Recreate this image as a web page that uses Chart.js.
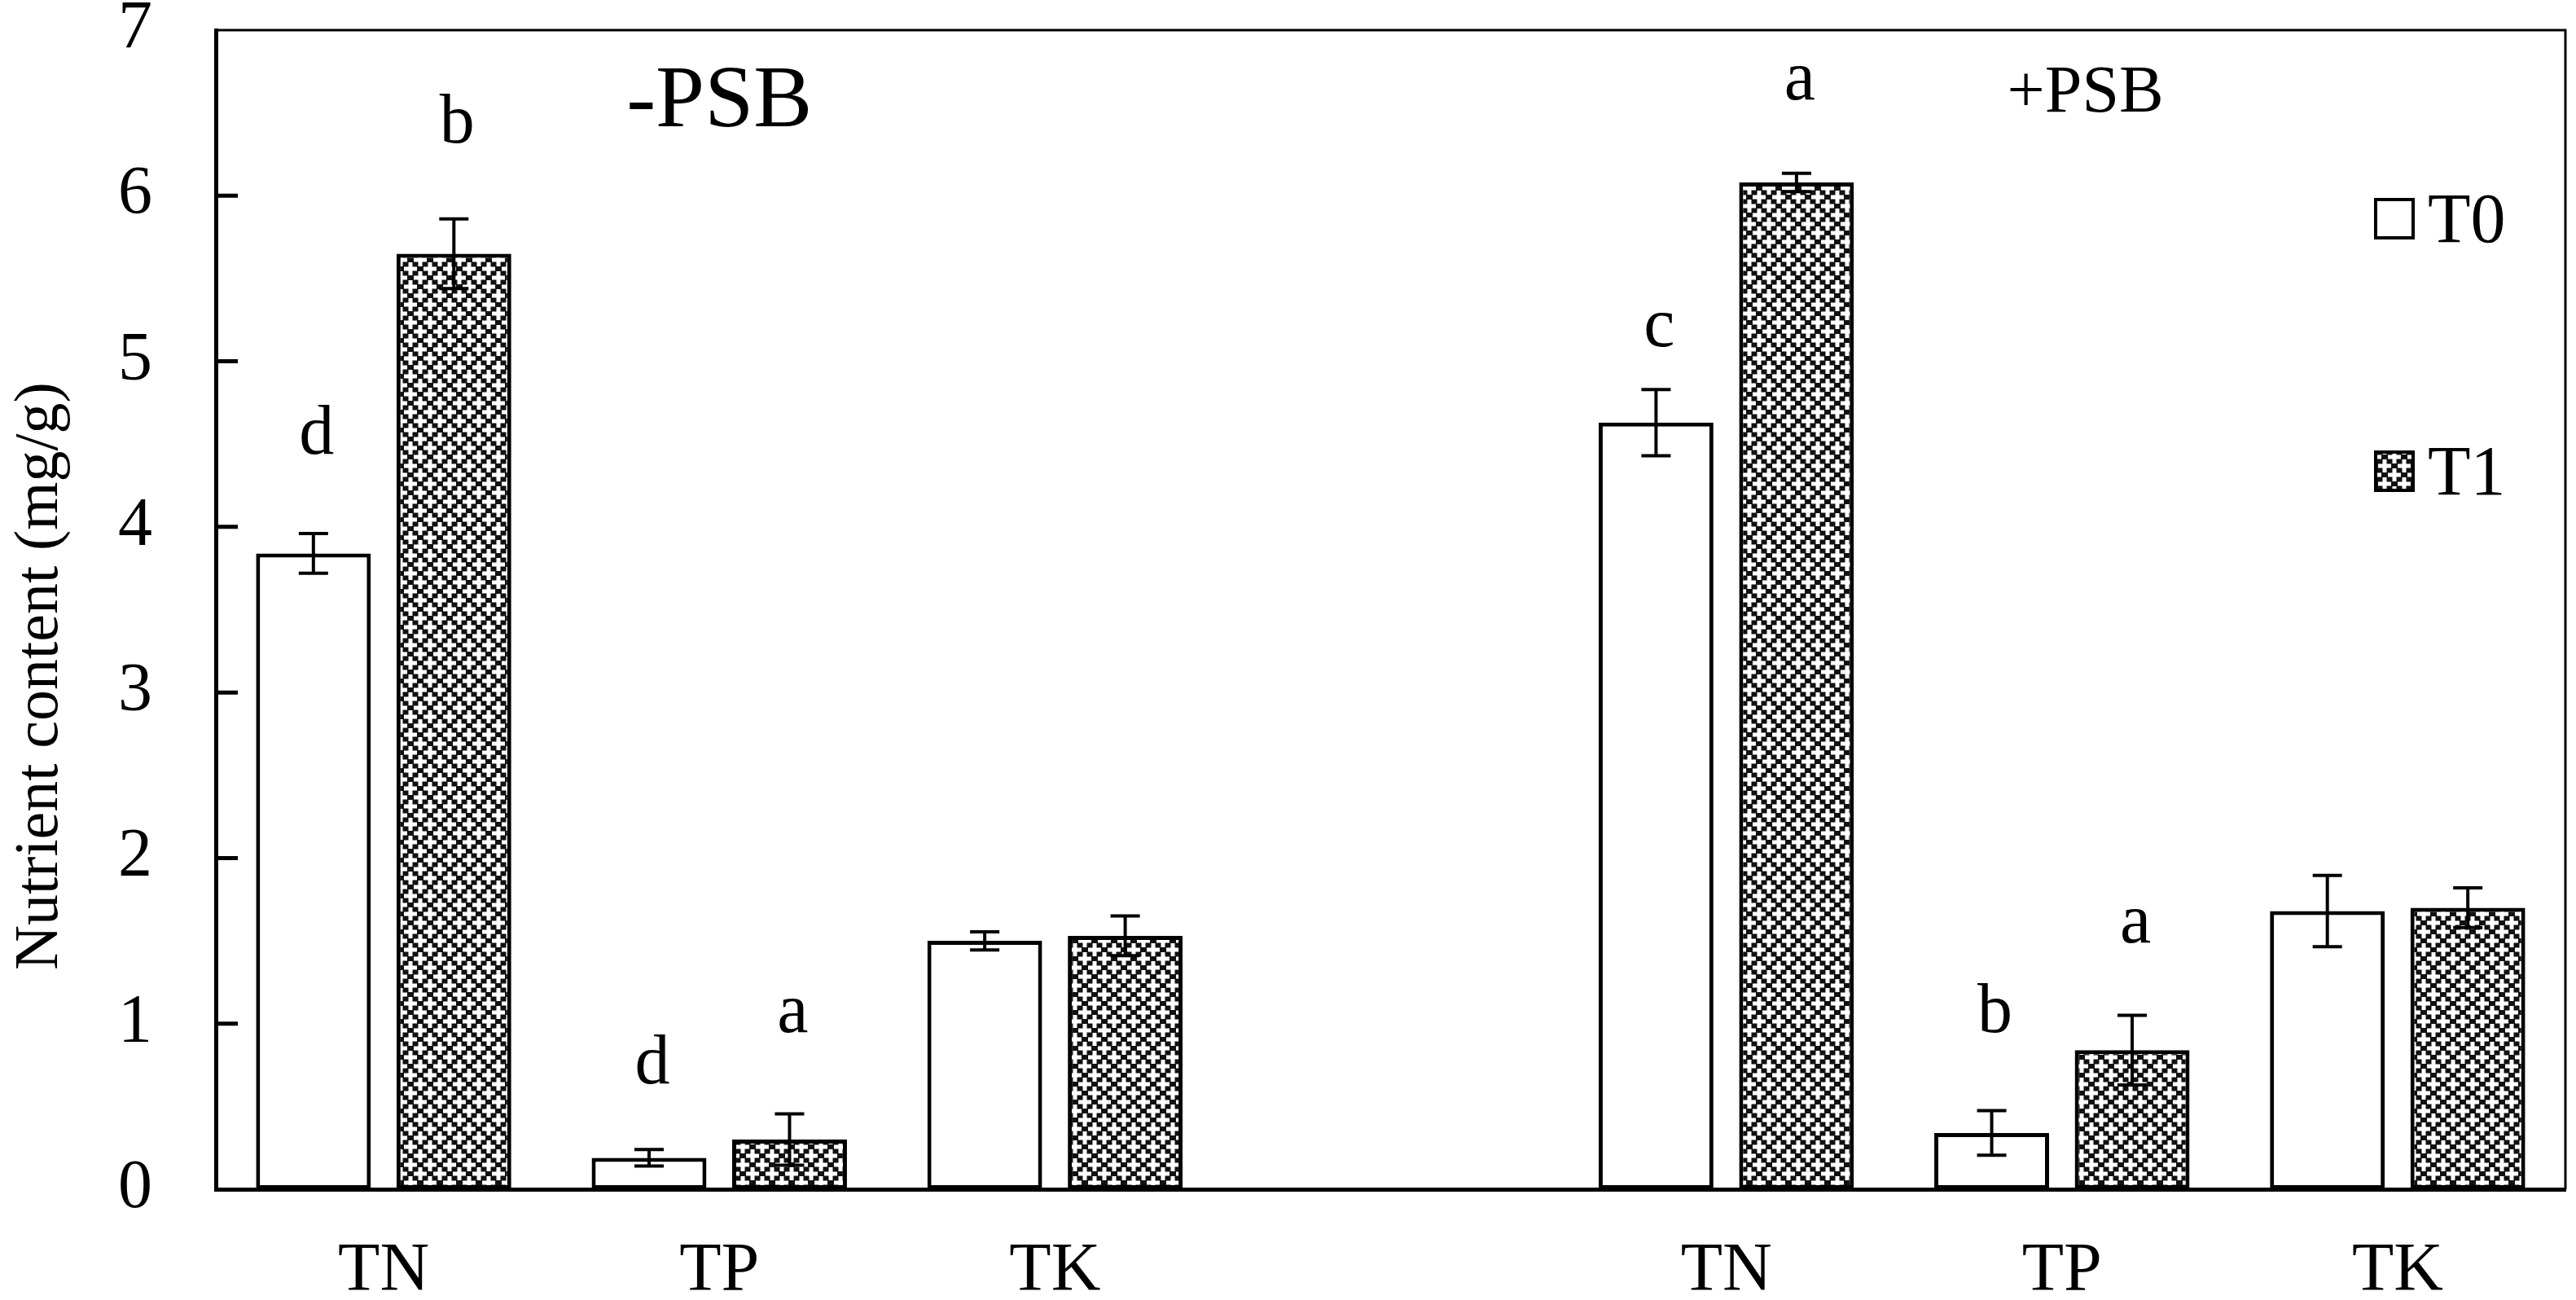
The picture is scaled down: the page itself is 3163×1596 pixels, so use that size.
<!DOCTYPE html>
<html><head><meta charset="utf-8">
<script src="https://cdn.jsdelivr.net/npm/chart.js@4.4.0/dist/chart.umd.min.js"></script>
<style>html,body{margin:0;padding:0;background:#fff;overflow:hidden}#wrap{width:3163px;height:1596px;position:relative}</style>
</head><body><div id="wrap"><canvas id="c" width="3163" height="1596"></canvas></div>
<script>
const categories = ['TN', 'TP', 'TK', '', 'TN', 'TP', 'TK'];
const seriesNames = ['T0', 'T1'];
const t0Values = [3.84, 0.19, 1.50, null, 4.63, 0.34, 1.68];
const t0Errors = [0.12, 0.05, 0.055, null, 0.20, 0.135, 0.215];
const t1Values = [5.65, 0.30, 1.53, null, 6.08, 0.84, 1.70];
const t1Errors = [0.21, 0.155, 0.12, null, 0.055, 0.21, 0.12];
const t0Letters = ['d', 'd', '', '', 'c', 'b', ''];
const t1Letters = ['b', 'a', '', '', 'a', 'a', ''];
const t0LetterAt = [4.44, 0.64, null, null, 5.09, 0.95, null];
const t1LetterAt = [6.32, 0.95, null, null, 6.58, 1.49, null];
const groupLabels = ['-PSB', '+PSB'];
const yTitle = 'Nutrient content (mg/g)';
const yMin = 0, yMax = 7, yStep = 1;

const SERIF = "'Liberation Serif', 'Times New Roman', serif";

function makePattern() {
  const W = 24, H = 22;
  const s = document.createElement('canvas');
  s.width = W; s.height = H;
  const g = s.getContext('2d');
  g.fillStyle = '#111'; g.fillRect(0, 0, W, H);
  g.fillStyle = '#fff';
  const arm = 8, half = 2.5;
  [[0,0],[W,0],[0,H],[W,H],[W/2,H/2]].forEach(([x, y]) => {
    g.fillRect(x - arm, y - half, arm * 2, half * 2);
    g.fillRect(x - half, y - arm, half * 2, arm * 2);
  });
  return g.createPattern(s, 'repeat');
}

const canvas = document.getElementById('c');
const ctx = canvas.getContext('2d');
const pattern = makePattern();

const extras = [
  { errors: t0Errors, letters: t0Letters, letterAt: t0LetterAt },
  { errors: t1Errors, letters: t1Letters, letterAt: t1LetterAt }
];

const decor = {
  id: 'decor',
  afterDatasetsDraw(chart) {
    const c = chart.ctx, y = chart.scales.y;
    c.save();
    c.strokeStyle = '#000';
    c.lineWidth = 4;
    extras.forEach((ex, di) => {
      const meta = chart.getDatasetMeta(di);
      const vals = chart.data.datasets[di].data;
      meta.data.forEach((bar, i) => {
        if (vals[i] == null) return;
        const e = ex.errors[i];
        const yt = y.getPixelForValue(vals[i] + e), yb = y.getPixelForValue(vals[i] - e);
        c.beginPath();
        c.moveTo(bar.x, yt); c.lineTo(bar.x, yb);
        c.moveTo(bar.x - 18, yt); c.lineTo(bar.x + 18, yt);
        c.moveTo(bar.x - 18, yb); c.lineTo(bar.x + 18, yb);
        c.stroke();
        if (ex.letters[i]) {
          c.fillStyle = '#000';
          c.font = '86px ' + SERIF;
          c.textAlign = 'center'; c.textBaseline = 'alphabetic';
          c.fillText(ex.letters[i], bar.x + 4, y.getPixelForValue(ex.letterAt[i]));
        }
      });
    });
    c.restore();
  },
  afterDraw(chart) {
    const c = chart.ctx, a = chart.chartArea, x = chart.scales.x, y = chart.scales.y;
    c.save();
    c.strokeStyle = '#000';
    c.lineWidth = 3;
    c.beginPath();
    c.moveTo(a.left, a.top); c.lineTo(a.right, a.top); c.lineTo(a.right, a.bottom);
    c.stroke();
    c.lineWidth = 5;
    c.beginPath();
    for (let v = yMin + yStep; v < yMax; v += yStep) {
      const py = y.getPixelForValue(v);
      c.moveTo(a.left, py); c.lineTo(a.left + 27, py);
    }
    c.stroke();
    c.fillStyle = '#000';
    c.textAlign = 'center'; c.textBaseline = 'alphabetic';
    c.font = '108px ' + SERIF;
    c.fillText(groupLabels[0], x.getPixelForValue(1), y.getPixelForValue(6.42));
    c.font = '82px ' + SERIF;
    c.fillText(groupLabels[1], x.getPixelForValue(5.07), y.getPixelForValue(6.51));
    const bx = a.right - 233;
    const items = [{ top: a.top + 208, fill: '#fff', base: a.top + 260 }, { top: a.top + 518, fill: pattern, base: a.top + 570 }];
    items.forEach((it, i) => {
      c.fillStyle = it.fill;
      c.fillRect(bx, it.top, 46, 47);
      c.lineWidth = 4; c.strokeStyle = '#000';
      c.strokeRect(bx, it.top, 46, 47);
      c.fillStyle = '#000';
      c.font = '86px ' + SERIF;
      c.textAlign = 'left';
      c.fillText(seriesNames[i], bx + 64, it.base);
    });
    c.translate(50, 830);
    c.rotate(-Math.PI / 2);
    c.textAlign = 'center'; c.textBaseline = 'middle';
    c.font = '76px ' + SERIF;
    c.fillText(yTitle, 0, 0);
    c.restore();
  }
};

new Chart(ctx, {
  type: 'bar',
  data: {
    labels: categories,
    datasets: [
      { label: seriesNames[0], data: t0Values, backgroundColor: '#fff', borderColor: '#000', borderWidth: 5, borderSkipped: false, categoryPercentage: 0.837, barPercentage: 0.817 },
      { label: seriesNames[1], data: t1Values, backgroundColor: pattern, borderColor: '#000', borderWidth: 5, borderSkipped: false, categoryPercentage: 0.837, barPercentage: 0.817 }
    ]
  },
  options: {
    responsive: false,
    animation: false,
    devicePixelRatio: 1,
    layout: { padding: { top: 37, right: 13, left: 0, bottom: 0 } },
    plugins: { legend: { display: false }, tooltip: { enabled: false } },
    scales: {
      x: {
        grid: { display: false, drawTicks: false },
        border: { display: true, color: '#000', width: 5 },
        ticks: { font: { family: SERIF, size: 84 }, color: '#000', padding: 52, autoSkip: false, maxRotation: 0 },
        afterFit(s) { s.height = 136; s.paddingLeft = 0; s.paddingRight = 0; }
      },
      y: {
        min: yMin, max: yMax,
        grid: { display: false, drawTicks: false },
        border: { display: true, color: '#000', width: 5 },
        ticks: { stepSize: yStep, font: { family: SERIF, size: 84 }, color: '#000', padding: 78 },
        afterFit(s) { s.width = 265; s.paddingTop = 0; s.paddingBottom = 0; }
      }
    }
  },
  plugins: [decor]
});
</script>
</body></html>
